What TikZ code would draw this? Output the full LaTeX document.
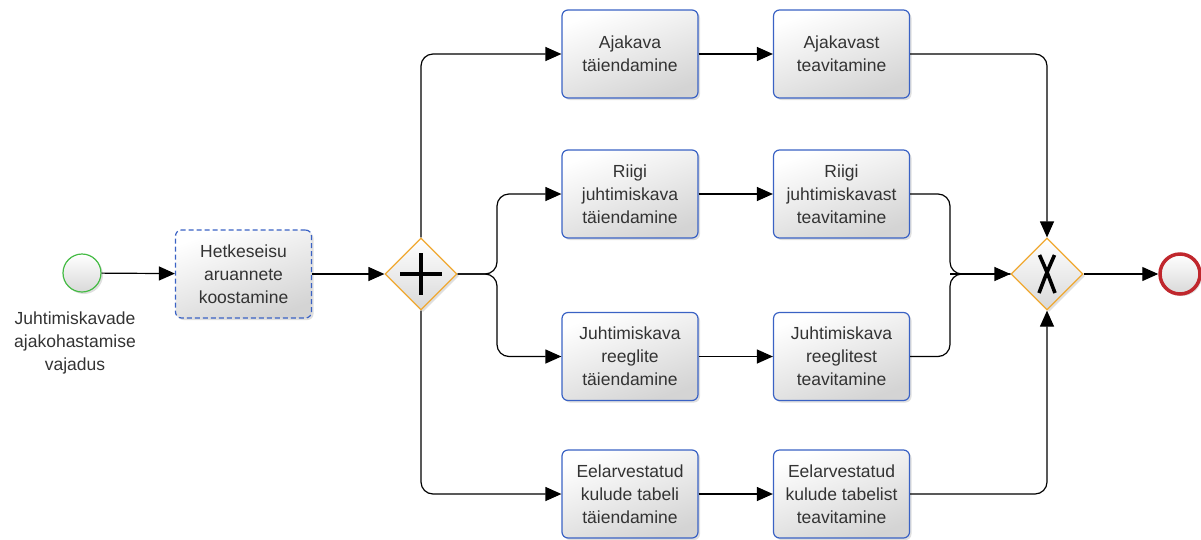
\documentclass[tikz,border=0pt]{standalone}
\usepackage{fontspec}
\setmainfont{Liberation Sans}
\usetikzlibrary{shapes.geometric,arrows.meta,shadows}
\definecolor{taskblue}{HTML}{3A62C4}
\definecolor{gwor}{HTML}{F0A830}
\definecolor{stgreen}{HTML}{44BB44}
\definecolor{endred}{HTML}{C0272D}
\definecolor{txt}{HTML}{333333}
\tikzset{
  taskbox/.style={draw=taskblue, line width=1.2pt, rounded corners=6pt,
    minimum width=136pt, minimum height=88pt, align=center, inner sep=0pt,
    font=\fontsize{17.5}{23}\selectfont, text=txt,
    top color=white, bottom color=black!17, shading angle=20,
    drop shadow={shadow xshift=2pt, shadow yshift=-2pt, opacity=0.25}},
  gw/.style={diamond, draw=gwor, line width=1.2pt, minimum width=72pt, minimum height=72pt,
    inner sep=0pt, top color=white, bottom color=black!15,
    drop shadow={shadow xshift=2pt, shadow yshift=-2pt, opacity=0.25}},
  flow/.style={line width=1.2pt, -{Triangle[length=16pt,width=14pt]}, rounded corners=12pt},
  plain/.style={line width=1.2pt, rounded corners=12pt}
}
\begin{document}
\begin{tikzpicture}[x=1pt,y=-1pt]
\useasboundingbox (0,0) rectangle (1201,539);
% start event
\node[circle, draw=stgreen, line width=1.2pt, minimum size=38pt, inner sep=0pt,
  top color=white, bottom color=black!15,
  drop shadow={shadow xshift=2pt, shadow yshift=-2pt, opacity=0.25}] (start) at (82,273) {};
\node[align=center, font=\fontsize{17.5}{23}\selectfont, text=txt] (startlbl) at (75,343)
  {Juhtimiskavade\\ajakohastamise\\vajadus};
% first task
\node[taskbox, dashed, dash pattern=on 5pt off 3pt] (t0) at (243.5,274) {Hetkeseisu\\aruannete\\koostamine};
% gateways
\node[gw] (g1) at (421,274) {};
\draw[line width=4pt] (400,274) -- (442,274) (421,253) -- (421,295);
\node[gw] (g2) at (1047,274) {};
\draw[line width=3.6pt] (1039.5,255) .. controls (1047,272) .. (1055,293);
\draw[line width=3.6pt] (1054.5,255) .. controls (1047,272) .. (1039,293);
% end event
\node[circle, draw=endred, line width=3.5pt, minimum size=40pt, inner sep=0pt,
  top color=white, bottom color=black!15,
  drop shadow={shadow xshift=2pt, shadow yshift=-2pt, opacity=0.25}] (end) at (1180,274) {};
% tasks
\node[taskbox] (a1) at (630,54) {Ajakava\\täiendamine};
\node[taskbox] (a2) at (841.5,54) {Ajakavast\\teavitamine};
\node[taskbox] (b1) at (630,194) {Riigi\\juhtimiskava\\täiendamine};
\node[taskbox] (b2) at (841.5,194) {Riigi\\juhtimiskavast\\teavitamine};
\node[taskbox] (c1) at (630,356.5) {Juhtimiskava\\reeglite\\täiendamine};
\node[taskbox] (c2) at (841.5,356.5) {Juhtimiskava\\reeglitest\\teavitamine};
\node[taskbox] (d1) at (630,494) {Eelarvestatud\\kulude tabeli\\täiendamine};
\node[taskbox] (d2) at (841.5,494) {Eelarvestatud\\kulude tabelist\\teavitamine};
% junction coordinates
\coordinate (sj) at (497,274);
\coordinate (mj) at (950,274);
% flows
\draw[flow] (start) -- (t0);
\draw[flow] (t0) -- (g1);
\draw[flow] (g1.north) |- (a1.west);
\draw[flow] (g1.south) |- (d1.west);
\draw[flow] (g1.east) -- (sj) |- (b1.west);
\draw[flow] (g1.east) -- (sj) |- (c1.west);
\draw[flow] (a1) -- (a2);
\draw[flow] (b1) -- (b2);
\draw[flow] (c1) -- (c2);
\draw[flow] (d1) -- (d2);
\draw[flow] (a2.east) -| (g2.north);
\draw[flow] (d2.east) -| (g2.south);
\draw[plain] (b2.east) -| (mj) -- (g2.west);
\draw[plain] (c2.east) -| (mj) -- (g2.west);
\draw[flow] (mj) -- (g2.west);
\draw[flow] (g2) -- (end);
\end{tikzpicture}
\end{document}
